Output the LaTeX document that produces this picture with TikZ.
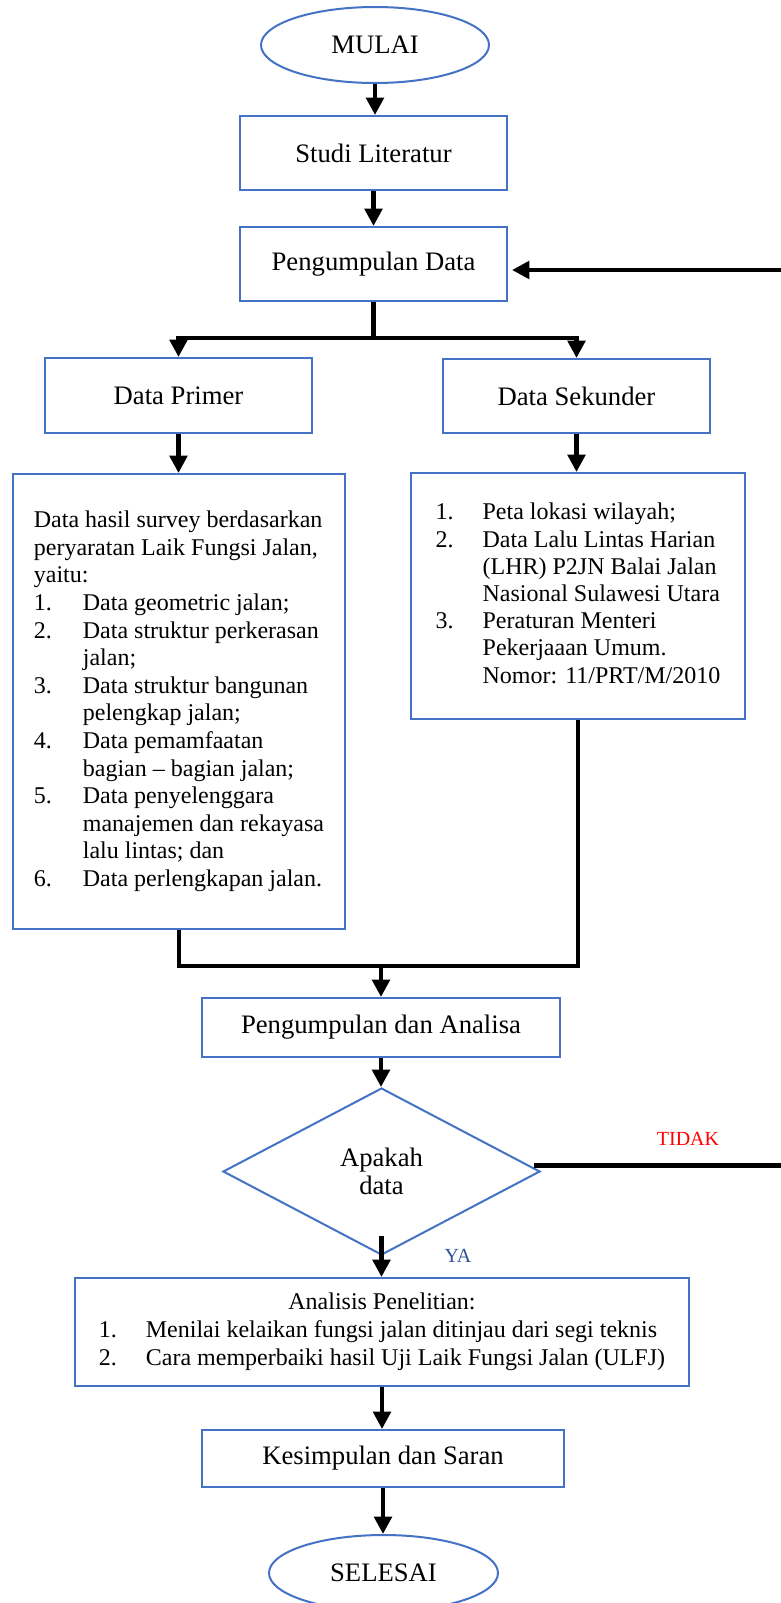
\documentclass[tikz,border=0pt]{standalone}
\usepackage{fontspec}
\setmainfont{Liberation Serif}
\usetikzlibrary{shapes.geometric,arrows.meta,calc}
\definecolor{boxblue}{RGB}{68,114,196}
\definecolor{yablue}{RGB}{47,84,150}
\begin{document}
\begin{tikzpicture}[x=0.75pt,y=-0.75pt,
  box/.style={draw=boxblue,line width=1.5pt,rectangle,inner sep=0pt,align=center,font=\fontsize{20}{24}\selectfont},
  term/.style={draw=boxblue,line width=1.5pt,ellipse,inner sep=0pt,minimum width=171pt,minimum height=57pt,font=\fontsize{20}{24}\selectfont},
  listbox/.style={box,font=\fontsize{18}{20.7}\selectfont},
  conn/.style={line width=3.2pt,black},
  arr/.style={conn,-{Triangle[length=13pt,width=13pt]}},
  lbl/.style={font=\fontsize{15}{18}\selectfont}
]
\useasboundingbox (0,0) rectangle (781,1603);
\fill[white] (0,0) rectangle (781,1603);

\node[term] (mulai) at (375,45) {MULAI};
\node[box,minimum width=200.25pt,minimum height=55.5pt] (sl) at (373.5,153) {Studi Literatur};
\node[box,minimum width=200.25pt,minimum height=55.5pt] (pd) at (373.5,264) {Pengumpulan Data};
\node[box,minimum width=200.25pt,minimum height=56.25pt] (dp) at (178.5,395.5) {Data Primer};
\node[box,minimum width=200.25pt,minimum height=55.5pt] (ds) at (576.5,396) {Data Sekunder};

\node[listbox,minimum width=249pt,minimum height=341.25pt] (lb) at (179,701.5) {%
\begin{tabular}{@{}p{36.75pt}@{}l@{}}
\multicolumn{2}{@{}l@{}}{Data hasil survey berdasarkan}\\
\multicolumn{2}{@{}l@{}}{peryaratan Laik Fungsi Jalan,}\\
\multicolumn{2}{@{}l@{}}{yaitu:}\\
1. & Data geometric jalan;\\
2. & Data struktur perkerasan\\
   & jalan;\\
3. & Data struktur bangunan\\
   & pelengkap jalan;\\
4. & Data pemamfaatan\\
   & bagian -- bagian jalan;\\
5. & Data penyelenggara\\
   & manajemen dan rekayasa\\
   & lalu lintas; dan\\
6. & Data perlengkapan jalan.
\end{tabular}};

\node[listbox,minimum width=250.5pt,minimum height=184.5pt,font=\fontsize{18}{20.4}\selectfont] (rb) at (578,596) {%
\begin{tabular}{@{}p{35.25pt}@{}l@{}}
1. & Peta lokasi wilayah;\\
2. & Data Lalu Lintas Harian\\
   & (LHR) P2JN Balai Jalan\\
   & Nasional Sulawesi Utara\\
3. & Peraturan Menteri\\
   & Pekerjaaan Umum.\\
   & Nomor: 11/PRT/M/2010
\end{tabular}};

\node[box,minimum width=268.5pt,minimum height=44.25pt] (pda) at (381,1027.5) {Pengumpulan dan Analisa};
\node[draw=boxblue,line width=1.5pt,diamond,inner sep=0pt,minimum width=237.75pt,minimum height=125.25pt,align=center,font=\fontsize{20}{21}\selectfont] (dia) at (381.5,1171.5) {Apakah\\data};

\node[listbox,minimum width=460.5pt,minimum height=81pt,font=\fontsize{18}{21}\selectfont] (ana) at (382,1332) {%
\begin{tabular}{@{}p{35.25pt}@{}l@{}}
\multicolumn{2}{@{}c@{}}{Analisis Penelitian:}\\
1. & Menilai kelaikan fungsi jalan ditinjau dari segi teknis\\
2. & Cara memperbaiki hasil Uji Laik Fungsi Jalan (ULFJ)
\end{tabular}};

\node[box,minimum width=271.5pt,minimum height=42.75pt] (ks) at (383,1458.5) {Kesimpulan dan Saran};
\node[term,minimum width=171.75pt] (sel) at (383.5,1573) {SELESAI};

\node[lbl,text=red] (tidak) at (688,1139) {TIDAK};
\node[lbl,text=yablue] (ya) at (458,1256) {YA};

% connectors
\draw[arr] (mulai.south) -- (mulai.south |- sl.north);
\draw[arr] (sl.south) -- (pd.north);
\coordinate (split) at (373.5,338);
\draw[conn] (pd.south) -- (split);
\draw[arr] (split) -| (dp.north);
\draw[arr] (split) -| (ds.north);
\draw[arr] (dp.south) -- (dp.south |- lb.north);
\draw[arr] (ds.south) -- (ds.south |- rb.north);
\coordinate (join) at (381,966);
\draw[conn] (lb.south) |- (join) -| (rb.south);
\draw[arr] (join) -- (pda.north);
\draw[arr] (pda.south) -- (pda.south |- dia.north);
\draw[arr] ([yshift=15pt]dia.south) -- (dia.south |- ana.north);
\draw[arr] (ana.south) -- (ana.south |- ks.north);
\draw[arr] (ks.south) -- (ks.south |- sel.north);
\draw[arr,shorten >=3pt] ([xshift=-5pt,yshift=4.5pt]dia.east) -- ++(280,0) |- ([yshift=-4.5pt]pd.east);
\end{tikzpicture}
\end{document}
